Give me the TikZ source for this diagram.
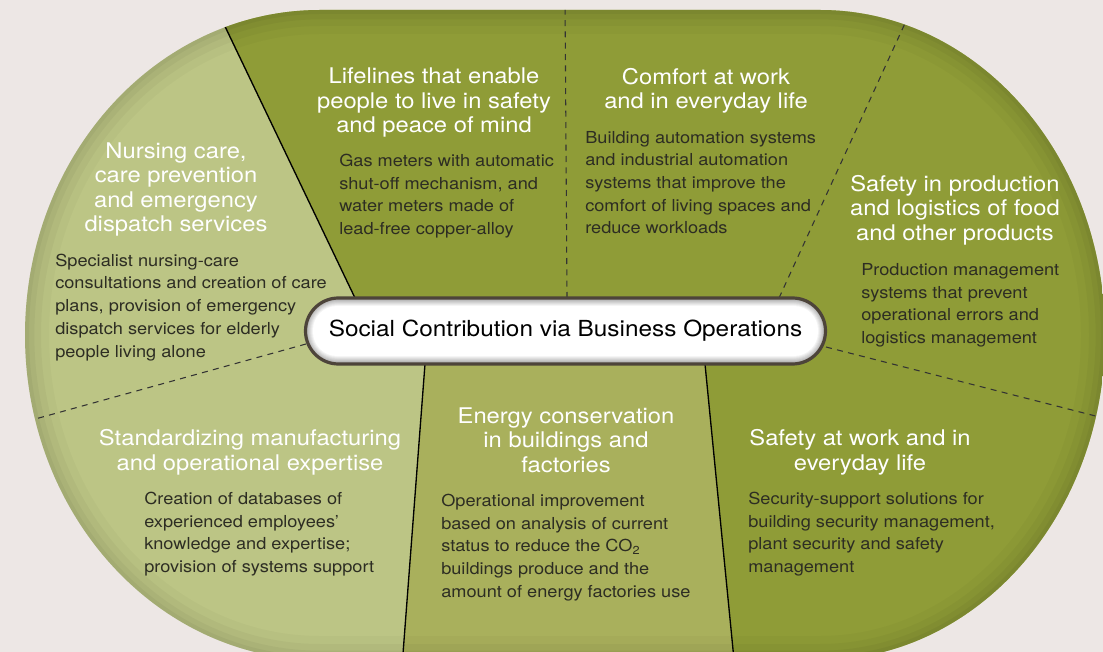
\documentclass[tikz,border=0pt]{standalone}
\usepackage{fontspec}
\setmainfont{TeX Gyre Heros}[FakeStretch=1.1]
\usetikzlibrary{shapes.misc}

\definecolor{paper}{HTML}{EDE7E5}
\definecolor{lite}{HTML}{BCC585}
\definecolor{midolive}{HTML}{A9B05C}
\definecolor{olive}{HTML}{8F9C37}
\definecolor{ink}{HTML}{2D2D23}
\definecolor{rimline}{HTML}{4D443A}

\begin{document}
\begin{tikzpicture}[x=0.75pt, y=-0.75pt,
    every node/.style={inner sep=0pt},
    % base anchor = baseline of the last line
    ttl/.style={text=white, align=center, anchor=base, font=\fontsize{16.2}{18.4}\selectfont},
    txt/.style={text=ink, align=left, anchor=base west, font=\fontsize{12.4}{17}\selectfont},
    divsolid/.style={line width=1pt, black},
    divdash/.style={line width=0.8pt, black!80, dash pattern=on 4.5pt off 4pt},
    corebox/.style={rounded rectangle, draw=rimline, line width=2.4pt, minimum width=390pt, minimum height=49.5pt, font=\fontsize{16.6}{19}\selectfont}
]
% page
\useasboundingbox (0,0) rectangle (1103,652);
\fill[paper] (0,0) rectangle (1103,652);

% oval outline
\path[save path=\rim] (320,10) -- (820,10)
    arc[start angle=90, end angle=-90, x radius=213.75pt, y radius=243.75pt]
    -- (320,660)
    arc[start angle=270, end angle=90, x radius=221.25pt, y radius=243.75pt] -- cycle;

\begin{scope}
\clip[use path=\rim];
% sectors
\fill[lite] (0,0) rectangle (1103,700);
\fill[olive] (202,-20) -- (355,298) -- (705,364) -- (736,680) -- (1130,680) -- (1130,-20) -- cycle;
\fill[midolive] (425,364) -- (401,680) -- (736,680) -- (705,364) -- cycle;
% soft rim
\foreach \w/\o in {36/0.025, 24/0.03, 14/0.035, 6/0.04}
  \draw[black, opacity=\o, line width=\w pt, use path=\rim];

% dividers
\coordinate (t1) at (210,-5);   \coordinate (c1) at (355,298);
\coordinate (t2) at (565,-5);   \coordinate (c2) at (567,298);
\coordinate (t3) at (918,-5);   \coordinate (c3) at (779,298);
\coordinate (t4) at (1115,421); \coordinate (c4) at (826,347);
\coordinate (t5) at (736,680);  \coordinate (c5) at (705,364);
\coordinate (t6) at (401,680);  \coordinate (c6) at (425,364);
\coordinate (t7) at (10,426);   \coordinate (c7) at (306,344);
\draw[divsolid] (c1) -- (t1);
\draw[divdash] (c2) -- (t2);
\draw[divdash] (c3) -- (t3);
\draw[divdash] (c4) -- (t4);
\draw[divsolid] (c5) -- (t5);
\draw[divsolid] (c6) -- (t6);
\draw[divdash] (c7) -- (t7);
\end{scope}

% centre pill
\foreach \k in {0,...,8}{
  \pgfmathsetmacro\g{36-4.5*\k}
  \fill[black!\g, rounded corners=(32-\k)*0.75pt] (305+\k,298+\k) rectangle (826-\k,364-\k);
}
\node[corebox] (core) at (565.5,331) {Social Contribution via Business Operations};

% headings
\node[ttl] (nurseT) at (176,232) {Nursing care,\\care prevention\\and emergency\\dispatch services};
\node[ttl] (lifeT) at (434,133) {Lifelines that enable\\people to live in safety\\and peace of mind};
\node[ttl] (comfT) at (706,109) {Comfort at work\\and in everyday life};
\node[ttl] (prodT) at (955,240.5) {Safety in production\\and logistics of food\\and other products};
\node[ttl] (safeT) at (860,470) {Safety at work and in\\everyday life};
\node[ttl] (enerT) at (566,472.5) {Energy conservation\\in buildings and\\factories};
\node[ttl] (stdT) at (250,470) {Standardizing manufacturing\\and operational expertise};

% descriptions
\node[txt] (nurseB) at (55,357) {Specialist nursing-care\\consultations and creation of care\\plans, provision of emergency\\dispatch services for elderly\\people living alone};
\node[txt] (lifeB) at (339,234.5) {Gas meters with automatic\\shut-off mechanism, and\\water meters made of\\lead-free copper-alloy};
\node[txt] (comfB) at (585,234) {Building automation systems\\and industrial automation\\systems that improve the\\comfort of living spaces and\\reduce workloads};
\node[txt] (prodB) at (861,343.5) {Production management\\systems that prevent\\operational errors and\\logistics management};
\node[txt] (safeB) at (748,572.5) {Security-support solutions for\\building security management,\\plant security and safety\\management};
\node[txt] (enerB) at (441,597) {Operational improvement\\based on analysis of current\\status to reduce the CO\textsubscript{2}\\buildings produce and the\\amount of energy factories use};
\node[txt] (stdB) at (144,572.5) {Creation of databases of\\experienced employees’\\knowledge and expertise;\\provision of systems support};
\end{tikzpicture}
\end{document}
